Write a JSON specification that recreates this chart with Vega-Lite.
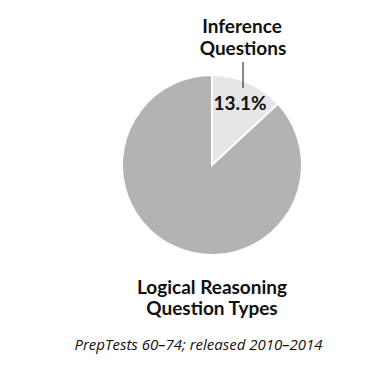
{
  "$schema": "https://vega.github.io/schema/vega-lite/v6.json",
  "width": 391,
  "height": 374,
  "autosize": "none",
  "padding": 0,
  "background": "white",
  "config": {"view": {"stroke": null}},
  "datasets": {
    "slices": [
      {"type": "Inference Questions", "share": 13.1, "ord": 1},
      {"type": "Other", "share": 86.9, "ord": 2}
    ],
    "labels": [
      {"text": "Inference", "x": 30, "y": 132},
      {"text": "Questions", "x": 31, "y": 110},
      {"text": "13.1%", "x": 28, "y": 55},
      {"text": "Logical Reasoning", "x": 0, "y": -129},
      {"text": "Question Types", "x": 0, "y": -150}
    ],
    "subtitle": [
      {"text": "PrepTests 60–74; released 2010–2014", "x": -13.5, "y": -185}
    ],
    "leader": [
      {"x": 31, "y": 103, "y2": 77}
    ]
  },
  "layer": [
    {
      "data": {"name": "slices"},
      "mark": {"type": "arc", "outerRadius": 90, "stroke": "white", "strokeWidth": 2},
      "encoding": {
        "x": {"datum": 0, "type": "quantitative", "scale": {"domain": [-212, 179], "nice": false, "zero": false}, "axis": null},
        "y": {"datum": 0, "type": "quantitative", "scale": {"domain": [-209, 165], "nice": false, "zero": false}, "axis": null},
        "theta": {"field": "share", "type": "quantitative", "stack": true},
        "order": {"field": "ord"},
        "color": {"field": "type", "type": "nominal", "scale": {"domain": ["Inference Questions", "Other"], "range": ["#e6e6e6", "#b3b3b3"]}, "legend": null}
      }
    },
    {
      "data": {"name": "leader"},
      "mark": {"type": "rule", "color": "#111111", "strokeWidth": 1},
      "encoding": {
        "x": {"field": "x", "type": "quantitative"},
        "y": {"field": "y", "type": "quantitative"},
        "y2": {"field": "y2"}
      }
    },
    {
      "data": {"name": "labels"},
      "mark": {"type": "text", "font": "Lato", "fontWeight": "bold", "fontSize": 19, "align": "center", "baseline": "alphabetic", "color": "#111111"},
      "encoding": {
        "x": {"field": "x", "type": "quantitative"},
        "y": {"field": "y", "type": "quantitative"},
        "text": {"field": "text"}
      }
    },
    {
      "data": {"name": "subtitle"},
      "mark": {"type": "text", "font": "Open Sans", "fontStyle": "italic", "fontSize": 15, "align": "center", "baseline": "alphabetic", "color": "#111111"},
      "encoding": {
        "x": {"field": "x", "type": "quantitative"},
        "y": {"field": "y", "type": "quantitative"},
        "text": {"field": "text"}
      }
    }
  ]
}
